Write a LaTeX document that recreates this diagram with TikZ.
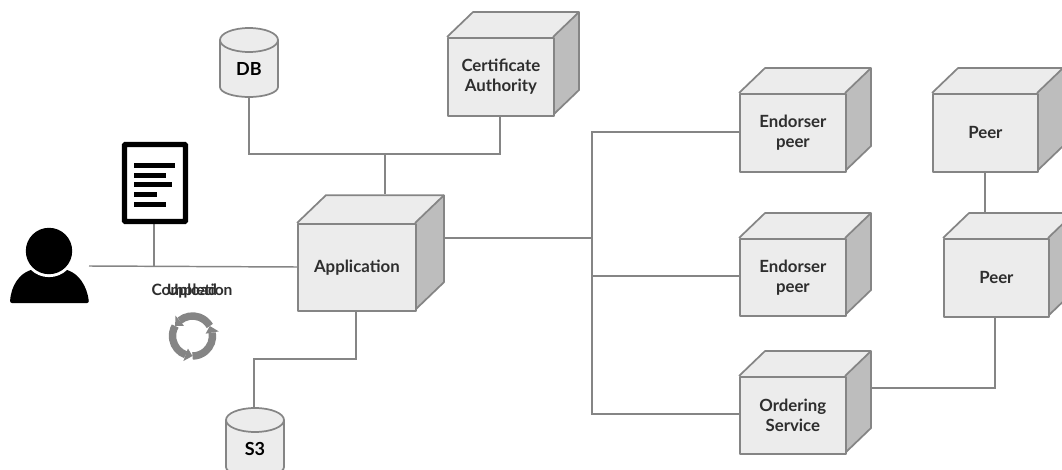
\documentclass[tikz,border=0pt]{standalone}
\usepackage{fontspec}
\setmainfont{Lato}
\definecolor{edgeg}{HTML}{858585}
\definecolor{frontg}{HTML}{ECECEC}
\definecolor{sideg}{HTML}{BDBDBD}
\definecolor{txt}{HTML}{2E2E2E}
\tikzset{
  wire/.style={draw=edgeg,line width=1.1pt},
  boxface/.style={draw=edgeg,line width=1.3pt,line join=round},
  lbl/.style={font=\bfseries\fontsize{12.6pt}{15pt}\selectfont,text=txt,align=center,inner sep=0pt},
  ink/.style={fill=black,draw=none}
}
\newcommand{\cube}[7]{% name, x0,y0,x1,y1, depth, text
  \fill[frontg] (#2+#6,#3-#6*0.96) -- (#4+#6,#3-#6*0.96) -- (#4,#3) -- (#2,#3) -- cycle;
  \fill[sideg] (#4,#3) -- (#4+#6,#3-#6*0.96) -- (#4+#6,#5-#6*0.96) -- (#4,#5) -- cycle;
  \draw[boxface] (#2,#3) -- (#2+#6,#3-#6*0.96) -- (#4+#6,#3-#6*0.96) -- (#4+#6,#5-#6*0.96) -- (#4,#5);
  \draw[boxface] (#4,#3) -- (#4+#6,#3-#6*0.96);
  \node[boxface,fill=frontg,minimum width=#4*0.75pt-#2*0.75pt,minimum height=#5*0.75pt-#3*0.75pt,inner sep=0pt,anchor=north west,lbl] (#1) at (#2,#3) {#7};
}
\newcommand{\drum}[6]{% name, x0,ytop,x1,ybot, text
  \draw[boxface,fill=frontg] (#2,#3+12) -- (#2,#5-10) arc[start angle=180,end angle=360,x radius={(#4-#2)/2*0.75pt},y radius=7.5pt] -- (#4,#3+12);
  \draw[boxface,fill=frontg] ({(#2+#4)/2},#3+12) ellipse[x radius={(#4-#2)/2*0.75pt},y radius=9pt];
  \node[lbl,font=\bfseries\fontsize{13.5pt}{15pt}\selectfont,text=black] (#1) at ({(#2+#4)/2},#3+41) {#6};
}
\begin{document}
\begin{tikzpicture}[x=0.75pt,y=-0.75pt]
\useasboundingbox (0,0) rectangle (1062,470);
\clip (0,0) rectangle (1062,470);
\coordinate (jt) at (385,154);
\coordinate (jr) at (592,238);
\coordinate (pu) at (89,266);
\coordinate (dj) at (154,266.3);
\coordinate (s1) at (356,359);
\coordinate (s2) at (254,359);
\coordinate (oc) at (995,388);
\coordinate (dbb) at (249,97);
\coordinate (cab) at (500,115);
\coordinate (apt) at (385,194);
\coordinate (apr) at (444,238);
\coordinate (e1l) at (739,132);
\coordinate (e2l) at (739,276);
\coordinate (osl) at (739,414);
\coordinate (osr) at (871,388);
\coordinate (apl) at (297,267);
\coordinate (apb) at (356,310);
\coordinate (s3t) at (254,408);
\coordinate (p2b) at (995,316);
\coordinate (p1b) at (985,171);
\coordinate (p2t) at (985,213);
\coordinate (dcb) at (154,224);
\draw[wire] (dbb) |- (jt) -| (cab);
\draw[wire] (jt) -- (apt);
\draw[wire,line width=1.3pt] (apr) -- (jr);
\draw[wire] (e1l) -| (jr) |- (osl);
\draw[wire] (jr |- e2l) -- (e2l);
\draw[wire] (osr) -| (oc) -- (p2b);
\draw[wire] (p1b) -- (p2t);
\draw[wire] (pu) -- (apl);
\draw[wire] (dcb) -- (dj);
\draw[wire] (apb) -- (s1) -- (s2) -- (s3t);
\cube{ca}{447}{37}{553}{115}{26}{Certificate\\Authority}
\cube{app}{297}{223}{415}{310}{29}{Application}
\cube{e1}{739}{93}{845}{171}{26}{Endorser\\peer}
\cube{e2}{739}{238}{845}{315}{26}{Endorser\\peer}
\cube{os}{739}{376}{845}{453}{26}{Ordering\\Service}
\cube{p1}{932}{93}{1037}{171}{26}{Peer}
\cube{p2}{943}{238}{1048}{316}{26}{Peer}
\drum{db}{220}{28}{278}{97}{DB}
\drum{s3}{226}{408}{284}{477}{S3}
\draw[line width=3.9pt,draw=black,fill=white,rounded corners=0.6pt] (124.5,144.5) rectangle (185.5,221.5);
\fill[ink] (134,163.5) rectangle (175,168.5);
\fill[ink] (134,173) rectangle (166,178);
\fill[ink] (134,182.5) rectangle (172,187.5);
\fill[ink] (134,192) rectangle (157,197);
\fill[ink] (134,202) rectangle (166,207);
\fill[ink,rounded corners=1.5pt] (10,303) .. controls (11,285) and (20,274) .. (31,270) -- (49,262) -- (67,270) .. controls (78,274) and (87,285) .. (89,303) -- cycle;
\fill[white] (49,251) circle[radius=19.6pt];
\fill[ink] (49,251) circle[radius=17.4pt];
\node[font=\bfseries\fontsize{11.7pt}{12pt}\selectfont,text=txt,inner sep=0pt] (lc) at (192,291) {Completion};
\node[font=\bfseries\fontsize{11.7pt}{12pt}\selectfont,text=txt,inner sep=0pt] (lu) at (192,291) {Upload};
\begin{scope}[shift={(192.5,336)},x=1pt,y=1pt]
\foreach \a in {130,10,250}{
  \draw[line width=5.6pt,draw=edgeg] (\a:15) arc[start angle=\a,end angle=\a-100,radius=15pt];
  \fill[edgeg] (\a:10) -- (\a:20) -- (\a+20:15) -- cycle;
}
\end{scope}
\end{tikzpicture}
\end{document}
